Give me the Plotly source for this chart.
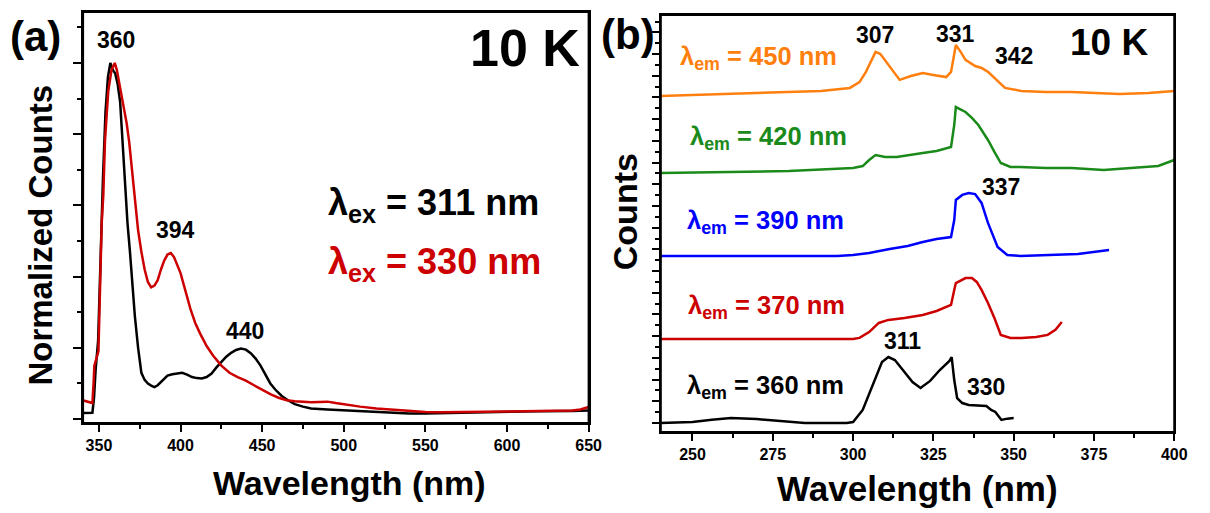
import plotly.graph_objects as go

# ---------------- Panel (a) data: normalized emission spectra ----------------
wl_ex311 = [340, 346, 347, 348, 349.5, 351, 352.5, 354, 355.5, 357, 358.5, 360, 361.5, 363,
            364.5, 366, 367.5, 369, 370.5, 372, 374, 376, 378, 380, 382, 384, 386, 389, 392,
            395, 398, 401, 404, 407, 410, 413, 416, 419, 422, 425, 428, 431, 434, 437, 440,
            443, 446, 449, 452, 455, 458, 462, 466, 470, 475, 480, 490, 500, 510, 520, 530,
            540, 550, 560, 570, 580, 590, 600, 620, 640, 650]
counts_ex311 = [0.017, 0.018, 0.06, 0.14, 0.22, 0.48, 0.68, 0.86, 0.96, 1.0, 0.98, 0.97, 0.94, 0.89,
                0.78, 0.65, 0.55, 0.47, 0.38, 0.29, 0.2, 0.13, 0.11, 0.1, 0.094, 0.09, 0.095, 0.11, 0.122,
                0.126, 0.128, 0.13, 0.125, 0.118, 0.115, 0.114, 0.118, 0.128, 0.145, 0.16, 0.175, 0.186,
                0.194, 0.198, 0.195, 0.185, 0.17, 0.15, 0.125, 0.1, 0.083, 0.065, 0.052, 0.042, 0.035,
                0.03, 0.027, 0.025, 0.022, 0.019, 0.017, 0.016, 0.016, 0.017, 0.018, 0.019, 0.021,
                0.022, 0.022, 0.023, 0.024]

wl_ex330 = [340, 343, 346, 346.7, 347.2, 349.7, 350.7, 351.7, 352.7, 353.7, 355.7, 357.7, 359.7,
            361, 363, 365, 367, 368.5, 370, 372, 374, 376, 378, 380, 382, 384, 386, 388, 390, 392,
            394, 396, 398, 400, 403, 406, 409, 412, 416, 420, 425, 430, 435, 440, 445, 450, 455,
            460, 465, 470, 475, 480, 485, 490, 495, 500, 510, 520, 530, 540, 550, 560, 570, 580,
            590, 600, 610, 620, 630, 640, 645, 650]
counts_ex330 = [0.053, 0.048, 0.045, 0.1, 0.15, 0.19, 0.37, 0.55, 0.63, 0.78, 0.92, 0.98, 1.0,
                0.98, 0.93, 0.88, 0.83, 0.78, 0.71, 0.61, 0.53, 0.47, 0.42, 0.385, 0.37, 0.375, 0.39,
                0.42, 0.445, 0.462, 0.466, 0.455, 0.435, 0.41, 0.36, 0.31, 0.27, 0.24, 0.205, 0.178,
                0.15, 0.13, 0.118, 0.108, 0.095, 0.082, 0.07, 0.06, 0.053, 0.05, 0.048, 0.047, 0.048,
                0.049, 0.045, 0.041, 0.035, 0.03, 0.026, 0.022, 0.02, 0.019, 0.019, 0.019, 0.02,
                0.021, 0.022, 0.023, 0.024, 0.024, 0.027, 0.034]

# ---------------- Panel (b) data: excitation spectra (offset, arbitrary units) ----------------
wl_em360 = [240, 250, 256, 262, 270, 278, 285, 298, 300, 303, 306, 309, 311, 313, 316, 318.5,
            321, 324, 327, 330, 330.7, 331.5, 332.4, 334, 336, 339, 341.5, 343, 344.3, 346.2, 348, 350]
counts_em360 = [0.0, 0.046, 0.15, 0.23, 0.18, 0.08, 0.0, 0.0, 0.046, 0.6, 1.75, 2.81, 3.04, 2.9,
                2.35, 1.89, 1.61, 1.94, 2.44, 2.86, 3.04, 1.98, 1.15, 0.92, 0.83, 0.8, 0.78, 0.6,
                0.51, 0.14, 0.2, 0.23]

wl_em370 = [240, 270, 300, 302, 305, 308, 311, 316, 321.7, 326, 330.5, 331.5, 332, 335, 337,
            338.5, 340, 342, 344, 346, 349, 352.4, 357, 360.6, 363, 365]
counts_em370 = [3.87, 3.87, 3.87, 3.92, 4.19, 4.61, 4.75, 4.84, 4.98, 5.16, 5.44, 6.13, 6.45,
                6.68, 6.68, 6.5, 6.13, 5.53, 4.84, 4.06, 3.92, 3.92, 3.96, 4.06, 4.29, 4.65]

wl_em390 = [240, 270, 295, 300, 305, 311.4, 317, 321.7, 326, 330.5, 331.5, 332, 334, 336, 338,
            340, 342, 345, 348, 352, 362.6, 370, 379.7]
counts_em390 = [7.70, 7.70, 7.70, 7.74, 7.83, 8.02, 8.16, 8.34, 8.48, 8.57, 9.35, 10.28, 10.51,
                10.6, 10.55, 10.14, 9.22, 8.11, 7.74, 7.70, 7.74, 7.79, 7.97]

wl_em420 = [240, 260, 280, 295, 300, 303, 305, 307, 310, 313.6, 317, 321.7, 326, 330.5, 331.5,
            332, 335, 337, 339, 342, 344, 346, 349, 352, 360, 368, 378, 388, 395, 400]
counts_em420 = [11.52, 11.57, 11.61, 11.71, 11.75, 11.84, 12.12, 12.35, 12.26, 12.26, 12.35,
                12.44, 12.53, 12.72, 13.73, 14.56, 14.33, 14.06, 13.73, 13.04, 12.49, 11.98, 11.8,
                11.8, 11.75, 11.75, 11.66, 11.75, 11.84, 12.12]

wl_em450 = [240, 270, 290, 299, 302, 304, 306, 307, 308.5, 311.4, 314.5, 318, 321.7, 325, 329,
            330.5, 331.5, 332, 333.5, 335, 338, 340, 342, 344, 347.3, 352.4, 360, 368, 376, 383,
            392, 400]
counts_em450 = [15.07, 15.21, 15.30, 15.44, 15.71, 16.18, 16.82, 17.1, 17.0, 16.41, 15.81, 15.99,
                16.13, 16.04, 15.94, 16.18, 16.96, 17.42, 17.1, 16.73, 16.45, 16.36, 16.18, 15.9,
                15.44, 15.30, 15.25, 15.25, 15.21, 15.16, 15.21, 15.30]

# tick labels
ticks_a = [350, 400, 450, 500, 550, 600, 650]
ticks_b = [250, 275, 300, 325, 350, 375, 400]

# ---------------- Styling ----------------
W, H = 1210, 513
FONT = "Liberation Sans, Arial, sans-serif"
RED = "#CC0000"
ORANGE = "#FF7F0E"
GREEN = "#1A8A1A"
BLUE = "#0000FF"


def px(x):
    return x / W


def py(y):
    return 1 - y / H


fig = go.Figure()
fig.add_trace(go.Scatter(x=wl_ex311, y=counts_ex311, mode="lines",
                         line=dict(color="black", width=2.5), xaxis="x", yaxis="y"))
fig.add_trace(go.Scatter(x=wl_ex330, y=counts_ex330, mode="lines",
                         line=dict(color=RED, width=2.5), xaxis="x", yaxis="y"))

for wl, c, col in [(wl_em360, counts_em360, "black"), (wl_em370, counts_em370, RED),
                   (wl_em390, counts_em390, BLUE), (wl_em420, counts_em420, GREEN),
                   (wl_em450, counts_em450, ORANGE)]:
    fig.add_trace(go.Scatter(x=wl, y=c, mode="lines", line=dict(color=col, width=2.5),
                             xaxis="x2", yaxis="y2"))

axis_common = dict(showgrid=False, zeroline=False, showline=True, linecolor="black",
                   linewidth=2, mirror=True, ticks="outside", tickwidth=2, tickcolor="black",
                   tickfont=dict(family=FONT, size=16, color="black"))

fig.update_layout(
    width=W, height=H, autosize=False,
    margin=dict(l=0, r=0, t=0, b=0, pad=0),
    paper_bgcolor="white", plot_bgcolor="white",
    showlegend=False,
    xaxis=dict(domain=[px(84), px(595)], anchor="y", range=[340.3, 650],
               tickmode="array", tickvals=ticks_a, ticktext=[f"<b>{t}</b>" for t in ticks_a],
               ticklen=7, minor=dict(dtick=25, tick0=350, ticks="outside", ticklen=4,
                                     tickwidth=2, tickcolor="black"), **axis_common),
    yaxis=dict(domain=[py(423), py(12)], anchor="x", range=[-0.011, 1.143], tick0=0, dtick=0.2,
               ticklen=8, showticklabels=False,
               minor=dict(dtick=0.1, tick0=0, ticks="outside", ticklen=4, tickwidth=2,
                          tickcolor="black"), **axis_common),
    xaxis2=dict(domain=[px(668), px(1187)], anchor="y2", range=[240.14, 400],
                tickmode="array", tickvals=ticks_b, ticktext=[f"<b>{t}</b>" for t in ticks_b],
                ticklen=7,
                minor=dict(dtick=12.5, tick0=250, ticks="outside", ticklen=4, tickwidth=2,
                           tickcolor="black"), **axis_common),
    yaxis2=dict(domain=[py(432), py(15)], anchor="x2", range=[-0.415, 18.8], tick0=0, dtick=1,
                ticklen=7, showticklabels=False,
                minor=dict(dtick=0.5, tick0=0, ticks="outside", ticklen=4, tickwidth=2,
                           tickcolor="black"), **axis_common),
)

# panel frames
for xr, yr in [("x domain", "y domain"), ("x2 domain", "y2 domain")]:
    fig.add_shape(type="rect", xref=xr, yref=yr, x0=0, x1=1, y0=0, y1=1,
                  line=dict(color="black", width=2), fillcolor="rgba(0,0,0,0)", layer="above")

anns = []


def ann(text, x, y, size, color="black", angle=0, xanchor="center"):
    anns.append(dict(text="<b>" + text + "</b>", x=px(x), y=py(y), xref="paper", yref="paper",
                     xanchor=xanchor, yanchor="middle", showarrow=False, textangle=angle,
                     font=dict(family=FONT, size=size, color=color)))


# Panel (a)
ann("(a)", 36, 36, 42)
ann("360", 117, 40, 23)
ann("394", 177, 230, 23)
ann("440", 248, 331, 23)
ann("10 K", 531, 48, 52)
ann("λ<sub>ex</sub> = 311 nm", 330, 205, 36, xanchor="left")
ann("λ<sub>ex</sub> = 330 nm", 330, 264, 36, color=RED, xanchor="left")
ann("Normalized Counts", 41, 235, 33, angle=-90)
ann("Wavelength (nm)", 353, 483, 34)

# Panel (b)
ann("(b)", 635, 35, 42)
ann("10 K", 1121, 43, 37)
ann("307", 885, 35, 23)
ann("331", 966, 34, 23)
ann("342", 1025, 56, 23)
ann("337", 1012, 187, 23)
ann("311", 912, 341, 23)
ann("330", 997, 387, 23)
ann("λ<sub>em</sub> = 450 nm", 685, 58, 25.5, color=ORANGE, xanchor="left")
ann("λ<sub>em</sub> = 420 nm", 695, 138, 25.5, color=GREEN, xanchor="left")
ann("λ<sub>em</sub> = 390 nm", 692, 222, 25.5, color=BLUE, xanchor="left")
ann("λ<sub>em</sub> = 370 nm", 693, 307, 25.5, color=RED, xanchor="left")
ann("λ<sub>em</sub> = 360 nm", 692, 387, 25.5, xanchor="left")
ann("Counts", 632, 212, 34, angle=-90)
ann("Wavelength (nm)", 927, 488, 35)

fig.update_layout(annotations=anns)

page_fix = ("document.documentElement.style.margin='0';document.body.style.margin='0';"
            "document.body.style.overflow='hidden';")
fig.write_html("out.html", config={"displayModeBar": False}, post_script=page_fix)
